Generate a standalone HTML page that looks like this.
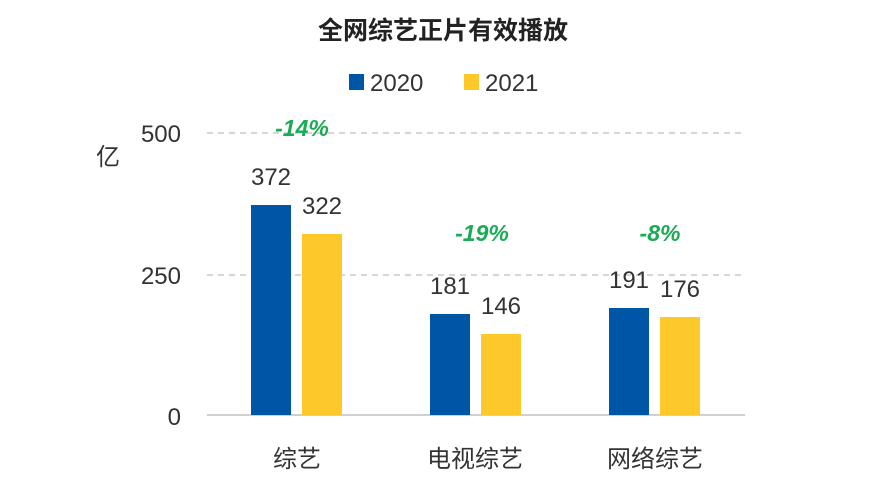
<!DOCTYPE html>
<html><head><meta charset="utf-8"><style>body{margin:0;background:#fff}</style></head><body>
<svg width="886" height="494" xmlns="http://www.w3.org/2000/svg" font-family="'Liberation Sans','Noto Sans CJK SC',sans-serif">
<rect width="886" height="494" fill="#fff"/>
<text x="443" y="39" text-anchor="middle" font-size="25" font-weight="bold" fill="#222">全网综艺正片有效播放</text>
<rect x="349" y="74" width="15" height="16" fill="#0056a6"/>
<text x="370" y="91" font-size="24" fill="#333">2020</text>
<rect x="464" y="74" width="15" height="16" fill="#fdc92a"/>
<text x="485" y="91" font-size="24" fill="#333">2021</text>
<g stroke="#c8c8c8" stroke-width="1.5" stroke-dasharray="6,5">
<line x1="207" y1="133" x2="745" y2="133"/><line x1="207" y1="275" x2="745" y2="275"/></g>
<line x1="207" y1="415" x2="745" y2="415" stroke="#d0d0d0" stroke-width="2"/>
<g font-size="24" fill="#333" text-anchor="end">
<text x="181" y="142">500</text><text x="181" y="284">250</text><text x="181" y="425">0</text></g>
<text x="96" y="165" font-size="24" fill="#333">亿</text>
<rect x="251" y="205" width="40" height="210" fill="#0056a6"/>
<rect x="302" y="234" width="40" height="181" fill="#fdc92a"/>
<rect x="430" y="314" width="40" height="101" fill="#0056a6"/>
<rect x="481" y="334" width="40" height="81" fill="#fdc92a"/>
<rect x="609" y="308" width="40" height="107" fill="#0056a6"/>
<rect x="660" y="317" width="40" height="98" fill="#fdc92a"/>
<g font-size="24" fill="#333" text-anchor="middle">
<text x="271" y="185">372</text><text x="322" y="214">322</text>
<text x="450" y="294">181</text><text x="501" y="314">146</text>
<text x="629" y="288">191</text><text x="680" y="297">176</text>
<text x="297" y="467">综艺</text><text x="475" y="467">电视综艺</text><text x="655" y="467">网络综艺</text></g>
<g font-size="23" font-weight="bold" font-style="italic" fill="#1aab55" text-anchor="middle">
<text x="302" y="136">-14%</text><text x="482" y="241">-19%</text><text x="660" y="241">-8%</text></g>
</svg>
</body></html>
